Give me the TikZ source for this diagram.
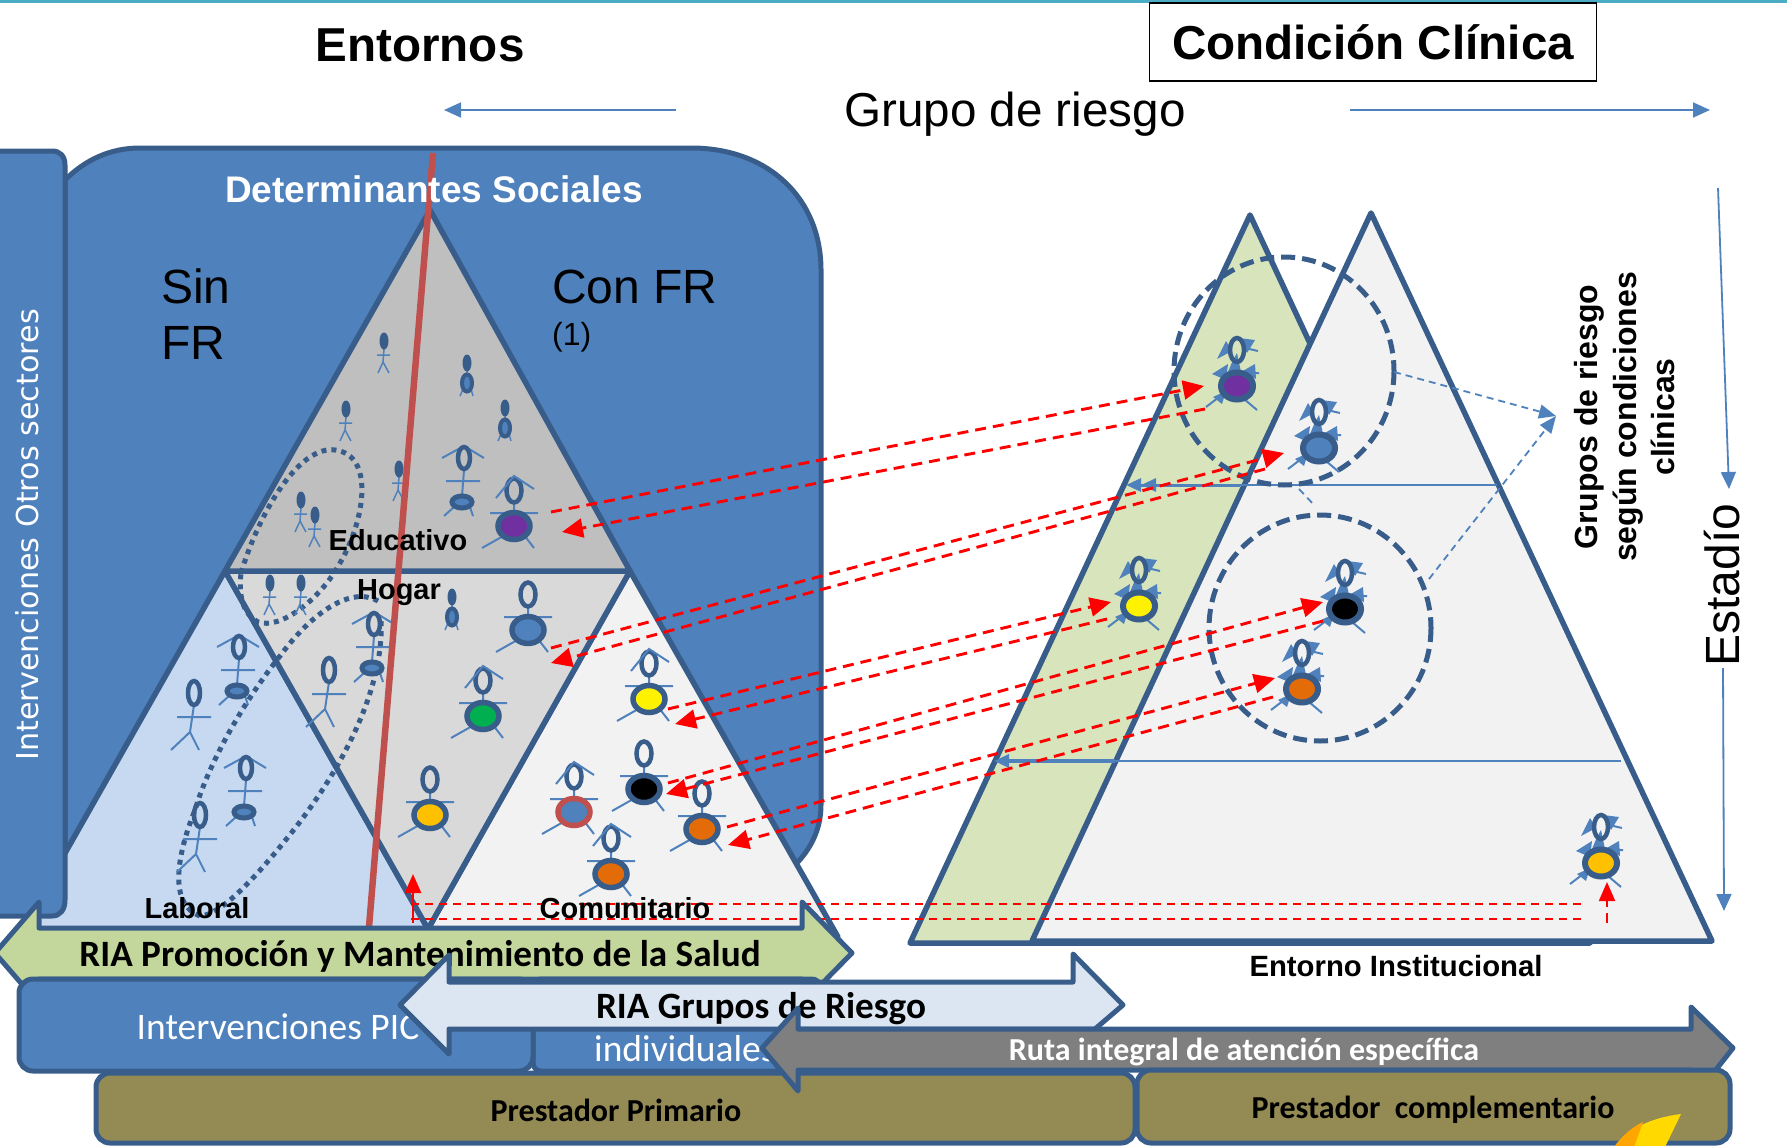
\documentclass[tikz,border=0pt]{standalone}
\usepackage{fontspec}
\setmainfont{Liberation Sans}
\newfontfamily\carl{Carlito}
\newfontfamily\vera{DejaVu Sans}
\usetikzlibrary{arrows.meta}
\definecolor{bfill}{HTML}{4F81BD}
\definecolor{bline}{HTML}{385D8A}
\definecolor{grayA}{HTML}{BFBFBF}
\definecolor{grayB}{HTML}{D9D9D9}
\definecolor{lblue}{HTML}{C6D9F1}
\definecolor{lgray}{HTML}{F2F2F2}
\definecolor{lgreen}{HTML}{D8E4BC}
\definecolor{mgreen}{HTML}{C3D69B}
\definecolor{pale}{HTML}{DCE6F2}
\definecolor{olive}{HTML}{948A54}
\definecolor{redl}{HTML}{C0504D}
\definecolor{cyanl}{HTML}{4BACC6}
\definecolor{cpurple}{HTML}{7030A0}
\definecolor{cgreen}{HTML}{00B050}
\definecolor{cgold}{HTML}{FFC000}
\definecolor{corange}{HTML}{E36C09}
\definecolor{cgrayarrow}{HTML}{7F7F7F}
\tikzset{
 blueshape/.style={fill=bfill,draw=bline,line width=5pt,line join=round},
 tri/.style={draw=bline,line width=5.5pt,line join=round},
 thinl/.style={draw=bfill,line width=2pt},
 thinarrow/.style={draw=bfill,line width=1.8pt,-{Triangle[length=17pt,width=15pt]}},
 reddash/.style={draw=red,line width=2.9pt,dash pattern=on 11pt off 7pt,-{Triangle[length=21pt,width=19pt]}},
 redflat/.style={draw=red,line width=2.2pt,dash pattern=on 8pt off 6pt},
 bluedash/.style={draw=bfill,line width=1.8pt,dash pattern=on 7pt off 5pt,-{Triangle[length=17pt,width=14pt]}},
 ringd/.style={draw=bline,line width=5pt,dash pattern=on 14pt off 7pt},
 dotl/.style={draw=bline,line width=5pt,dash pattern=on 5pt off 5pt},
 txtA/.style={inner sep=0pt,font=\bfseries\fontsize{29}{30}\selectfont},
 carlB/.style={inner sep=0pt,font=\carl\bfseries\fontsize{37.2}{38}\selectfont},
}
% coloured person with a filled body: x,y of the body, fill, ring colour
\newcommand{\bodyfig}[4]{\begin{scope}[shift={(#1,#2)}]
 \draw[thinl] (0,-25)--(0,-12) (-24,-13)--(24,-13) (-9,9)--(-32,22) (10,9)--(20,22);
 \draw[bline,line width=4.5pt] (0,-35.5) ellipse [x radius=7.5,y radius=12];
 \fill[#3,draw=#4,line width=5.5pt] (0,0) ellipse [x radius=16,y radius=13.5];
\end{scope}}
\newcommand{\chev}[2]{\begin{scope}[shift={(#1,#2)}]
 \draw[thinl] (-18,-28)--(0,-50)--(20,-37);
\end{scope}}
% lean person with a small body
\newcommand{\leanfig}[2]{\begin{scope}[shift={(#1,#2)}]
 \draw[thinl] (2,-32)--(0,-6) (-16,-21)--(18,-21) (-8,5)--(-18,14) (8,5)--(11,14) (-20,-44)--(2,-56)--(22,-44);
 \draw[bline,line width=4.5pt] (2,-44) ellipse [x radius=6,y radius=11];
 \fill[bfill,draw=bline,line width=5pt] (0,0) ellipse [x radius=10,y radius=6];
\end{scope}}
% stick person with open head
\newcommand{\stickfig}[2]{\begin{scope}[shift={(#1,#2)}]
 \draw[thinl] (0,12)--(-4,39) (-17,24)--(17,24) (-4,39)--(-23,57) (-4,39)--(5,57);
 \draw[bline,line width=4.5pt] (0,0) ellipse [x radius=6,y radius=12];
\end{scope}}
% small stick person with solid head
\newcommand{\tinyfig}[2]{\begin{scope}[shift={(#1,#2)}]
 \draw[bfill,line width=1.5pt] (0,8)--(-1,21) (-7,14)--(6,14) (-1,21)--(-6,32) (-1,21)--(5,32);
 \fill[bline] (0,0) ellipse [x radius=4.5,y radius=8.5];
\end{scope}}
% small person with solid head and ring body
\newcommand{\ringfig}[2]{\begin{scope}[shift={(#1,#2)}]
 \draw[bfill,line width=1.5pt] (0,8)--(0,14) (-4,26)--(-7,33) (4,26)--(6,33);
 \fill[bline] (0,0) ellipse [x radius=4.5,y radius=8.5];
 \fill[bfill,draw=bline,line width=4pt] (0,20) ellipse [x radius=5,y radius=8.5];
\end{scope}}
% person of the institutional triangle, its lines ending in arrow tips
\newcommand{\tipfig}[3]{\begin{scope}[shift={(#1,#2)}]
 \fill[bfill] (-20,-27)--(-11,-45)--(-5,-35)--cycle (2,-48)--(18,-46)--(10,-33)--cycle
  (-4,-26)--(0,-33)--(4,-14)--(-9,-14)--cycle (-25,-12)--(-9,-22)--(-11,-6)--cycle
  (18,-22)--(4,-14)--(19,-7)--cycle (-11,5)--(-24,11)--(-15,18)--cycle;
 \draw[thinl] (-31,21)--(-14,8) (7,13)--(20,24) (8,-38)--(21,-35) (10,-13)--(22,-13);
 \draw[bline,line width=4.5pt] (0,-36) ellipse [x radius=7,y radius=12];
 \fill[#3,draw=bline,line width=6pt] (0,0) ellipse [x radius=16,y radius=13.5];
\end{scope}}
\begin{document}
\begin{tikzpicture}[x=1pt,y=-1pt]
\useasboundingbox (0,0) rectangle (1787,1145);
\fill[cyanl] (0,0) rectangle (1787,3);
% headings
\node[inner sep=0pt,font=\bfseries\fontsize{47.6}{50}\selectfont] (entornos) at (420,45) {Entornos};
\node[draw=black,line width=1.6pt,minimum width=447pt,minimum height=78pt,inner sep=0pt,font=\bfseries\fontsize{47.6}{50}\selectfont] (cond) at (1373,42) {Condición Clínica};
\node[inner sep=0pt,font=\fontsize{47.6}{50}\selectfont] (grupo) at (1015,114) {Grupo de riesgo};
\coordinate (gl1) at (676,110); \coordinate (gl2) at (444,110);
\coordinate (gr1) at (1350,110); \coordinate (gr2) at (1710,110);
\draw[thinarrow] (gl1)--(gl2);
\draw[thinarrow] (gr1)--(gr2);
% background panel
\path[blueshape] (65,180) .. controls (85,160) and (110,148) .. (140,148) -- (691,148)
 .. controls (770,148) and (821,200) .. (821,270) -- (821,805)
 .. controls (821,830) and (810,850) .. (795,865) -- (65,870) -- cycle;
% left triangles
\coordinate (ta) at (430,210); \coordinate (tl) at (225,571); \coordinate (tr) at (630,571); \coordinate (tb) at (428,929);
\path[tri,fill=lblue] (tl)--(22,929)--(tb)--cycle;
\path[tri,fill=lgray] (tr)--(tb)--(838,937)--cycle;
\path[tri,fill=grayB] (tl)--(tr)--(tb)--cycle;
\path[tri,fill=grayA] (ta)--(tl)--(tr)--cycle;
% dotted loops
\draw[dotl] (241,573) .. controls (260,510) and (300,445) .. (335,450) .. controls (375,455) and (365,520) .. (340,563)
 .. controls (320,600) and (280,630) .. (258,622) .. controls (245,615) and (238,600) .. (241,573);
\draw[dotl] (378,601) .. controls (350,585) and (310,615) .. (280,656) .. controls (245,700) and (210,760) .. (195,810)
 .. controls (175,860) and (170,905) .. (200,916) .. controls (225,915) and (270,860) .. (296,827)
 .. controls (340,770) and (385,690) .. (381,618);
% left figures
\bodyfig{514}{526}{cpurple}{bline}\chev{514}{526}
\bodyfig{528}{630}{bfill}{bline}
\bodyfig{483}{716}{cgreen}{bline}\chev{483}{716}
\bodyfig{430}{815}{cgold}{bline}
\bodyfig{649}{699}{yellow}{bline}\chev{649}{699}
\bodyfig{644}{789}{black}{bline}
\bodyfig{574}{812}{bfill}{redl}\chev{574}{812}
\bodyfig{702}{829}{corange}{bline}
\bodyfig{611}{874}{corange}{bline}\chev{611}{874}
\leanfig{462}{502}\leanfig{237}{691}\leanfig{244}{812}\leanfig{372}{668}
\stickfig{194}{693}\stickfig{329}{670}\stickfig{200}{815}
\tinyfig{384}{341}\tinyfig{346}{409}\tinyfig{399}{469}\tinyfig{301}{500}\tinyfig{315}{515}\tinyfig{270}{583}\tinyfig{301}{583}
\ringfig{467}{363}\ringfig{505}{408}\ringfig{452}{597}
% risk divide
\coordinate (ra) at (433,153); \coordinate (rb) at (369,927);
\draw[redl,line width=6.5pt] (ra)--(rb);
% side bar
\path[blueshape] (-8,151) -- (52,151) .. controls (60,151) and (65,156) .. (65,165) -- (65,900)
 .. controls (65,910) and (60,916) .. (52,916) -- (-8,916) -- cycle;
\node[rotate=90,inner sep=0pt,text=white,font=\vera\fontsize{30.2}{33}\selectfont] (otros) at (27,535) {Intervenciones Otros sectores};
% right triangles
\coordinate (ga) at (1250,215); \coordinate (gb) at (910,943); \coordinate (gc) at (1590,943);
\coordinate (wa) at (1371,213); \coordinate (wb) at (1032,941); \coordinate (wc) at (1712,941);
\path[tri,fill=lgreen] (ga)--(gb)--(gc)--cycle;
\path[tri,fill=lgray] (wa)--(wb)--(wc)--cycle;
\coordinate (h1a) at (1497,485); \coordinate (h1b) at (1126,485);
\coordinate (h2a) at (1621,761); \coordinate (h2b) at (994,761);
\draw[thinl] (h1a)--(1150,485);
\draw[draw=bfill,line width=3pt,-{Triangle[length=15pt,width=13pt]Triangle[length=15pt,width=13pt]}] (1240,485)--(h1b);
\draw[thinl] (h2a)--(1115,761);
\draw[draw=bfill,line width=3.5pt,-{Triangle[length=15pt,width=13pt]}] (1115,761)--(h2b);
\draw[ringd] (1284,371) ellipse [x radius=110,y radius=114];
\draw[ringd] (1320,628) ellipse [x radius=111,y radius=113];
\coordinate (bd1) at (1394,372); \coordinate (bd2) at (1429,579); \coordinate (bdt) at (1556,416);
\coordinate (bd3) at (1299,489); \coordinate (bd4) at (1315,506);
\draw[bluedash] (bd1)--(bdt);
\draw[bluedash] (bd2)--(bdt);
\draw[draw=bfill,line width=1.8pt,dash pattern=on 7pt off 5pt] (bd3)--(bd4);
\tipfig{1237}{386}{cpurple}
\tipfig{1319}{448}{bfill}
\tipfig{1139}{606}{yellow}
\tipfig{1345}{609}{black}
\tipfig{1302}{689}{corange}
\tipfig{1601}{863}{cgold}
% red dashed links
\foreach \a/\ax/\ay/\b/\bx/\by in {p1/551/512/p2/1204/386,p3/1205/409/p4/562/532,b1/551/648/b2/1284/453,b3/1265/469/b4/551/663,y1/668/709/y2/1111/602,y3/1107/619/y4/675/724,k1/668/783/k2/1323/602,k3/1323/621/k4/666/794,o1/727/827/o2/1275/678,o3/1273/697/o4/728/845}{
 \coordinate (\a) at (\ax,\ay); \coordinate (\b) at (\bx,\by);
 \draw[reddash] (\a)--(\b);
}
\coordinate (g1) at (411,904); \coordinate (g2) at (1583,904); \coordinate (g3) at (411,919); \coordinate (g4) at (1583,919);
\draw[redflat] (g1)--(g2);
\draw[redflat] (g3)--(g4);
\coordinate (u1) at (413,923); \coordinate (u2) at (413,874); \coordinate (u3) at (1607,923); \coordinate (u4) at (1607,882);
\draw[draw=red,line width=2.6pt,dash pattern=on 34pt off 6pt,-{Triangle[length=19pt,width=16pt]}] (u1)--(u2);
\draw[draw=red,line width=2pt,dash pattern=on 10pt off 6pt,-{Triangle[length=19pt,width=16pt]}] (u3)--(u4);
% triangle labels
\node[txtA] (edu) at (398,540) {Educativo};
\node[txtA] (hog) at (399,593) {Hogar};
\node[txtA] (lab) at (197,908) {Laboral};
\node[txtA] (com) at (625,908) {Comunitario};
\node[inner sep=0pt,text=white,font=\bfseries\fontsize{37}{38}\selectfont] (det) at (434,189) {Determinantes Sociales};
\node[inner sep=0pt,anchor=west,font=\fontsize{48}{50}\selectfont] (sin) at (161,286) {Sin};
\node[inner sep=0pt,anchor=west,font=\fontsize{48}{50}\selectfont] (fr) at (161,343) {FR};
\node[inner sep=0pt,anchor=west,font=\fontsize{48}{50}\selectfont] (con) at (552,287) {Con FR};
\node[inner sep=0pt,anchor=west,font=\fontsize{32}{33}\selectfont] (uno) at (552,337) {(1)};
% green arrow
\path[blueshape,fill=mgreen] (-5,953)--(39,902)--(39,928)--(802,928)--(802,902)--(852,953)--(802,1004)--(802,979)--(39,979)--(39,1004)--cycle;
\node[carlB] (promo) at (420,956) {RIA Promoción y Mantenimiento de la Salud};
% boxes of the bottom band
\path[blueshape,fill=olive,rounded corners=14pt] (96,1073) rectangle (1135,1143);
\path[blueshape,rounded corners=8pt] (533,979) rectangle (820,1071);
\path[blueshape,rounded corners=14pt] (19,1030) -- (19,979) -- (533,979) -- (533,1071) -- (19,1071) -- cycle;
\node[inner sep=0pt,text=white,font=\carl\fontsize{37.5}{38}\selectfont] (pic) at (278,1027) {Intervenciones PIC};
\node[inner sep=0pt,anchor=west,text=white,font=\carl\fontsize{37.5}{38}\selectfont] (ind) at (594,1049) {individuales};
\path[blueshape,fill=pale] (400,1005)--(449,955)--(449,982)--(1073,982)--(1073,954)--(1123,1005)--(1095,1029)--(449,1029)--(449,1054)--cycle;
\node[carlB] (rgr) at (761,1009) {RIA Grupos de Riesgo};
\path[blueshape,fill=cgrayarrow] (762,1048)--(798,1008)--(798,1029)--(1691,1029)--(1691,1007)--(1733,1048)--(1700,1090)--(1691,1070)--(798,1070)--(798,1091)--cycle;
\node[inner sep=0pt,text=white,font=\carl\bfseries\fontsize{32}{33}\selectfont] (ruta) at (1244,1052) {Ruta integral de atención específica};
\path[blueshape,fill=olive,rounded corners=14pt] (1137,1070) rectangle (1730,1143);
\node[inner sep=0pt,font=\carl\bfseries\fontsize{32}{33}\selectfont] (pp) at (616,1110) {Prestador Primario};
\node[inner sep=0pt,font=\carl\bfseries\fontsize{32}{33}\selectfont] (pc) at (1433,1110) {Prestador\ \ complementario};
% leaf
\fill[cgold!60!yellow] (1681,1114) .. controls (1650,1118) and (1630,1128) .. (1614,1147) -- (1665,1147) -- cycle;
\fill[orange!70!yellow] (1643,1122) .. controls (1632,1127) and (1622,1136) .. (1614,1147) -- (1634,1147) -- cycle;
% right labels
\node[rotate=90,inner sep=0pt,align=center,font=\bfseries\fontsize{32}{38.5}\selectfont] (grc) at (1625,417) {Grupos de riesgo\\según condiciones\\clínicas};
\node[rotate=90,inner sep=0pt,font=\fontsize{48}{50}\selectfont] (est) at (1722,585) {Estadío};
\coordinate (e1) at (1718,188); \coordinate (e2) at (1729,489); \coordinate (e3) at (1723,668); \coordinate (e4) at (1724,911);
\draw[thinarrow] (e1)--(e2);
\draw[thinarrow] (e3)--(e4);
\node[txtA,font=\bfseries\fontsize{29.3}{30}\selectfont] (ent) at (1396,966) {Entorno Institucional};
\end{tikzpicture}
\end{document}
